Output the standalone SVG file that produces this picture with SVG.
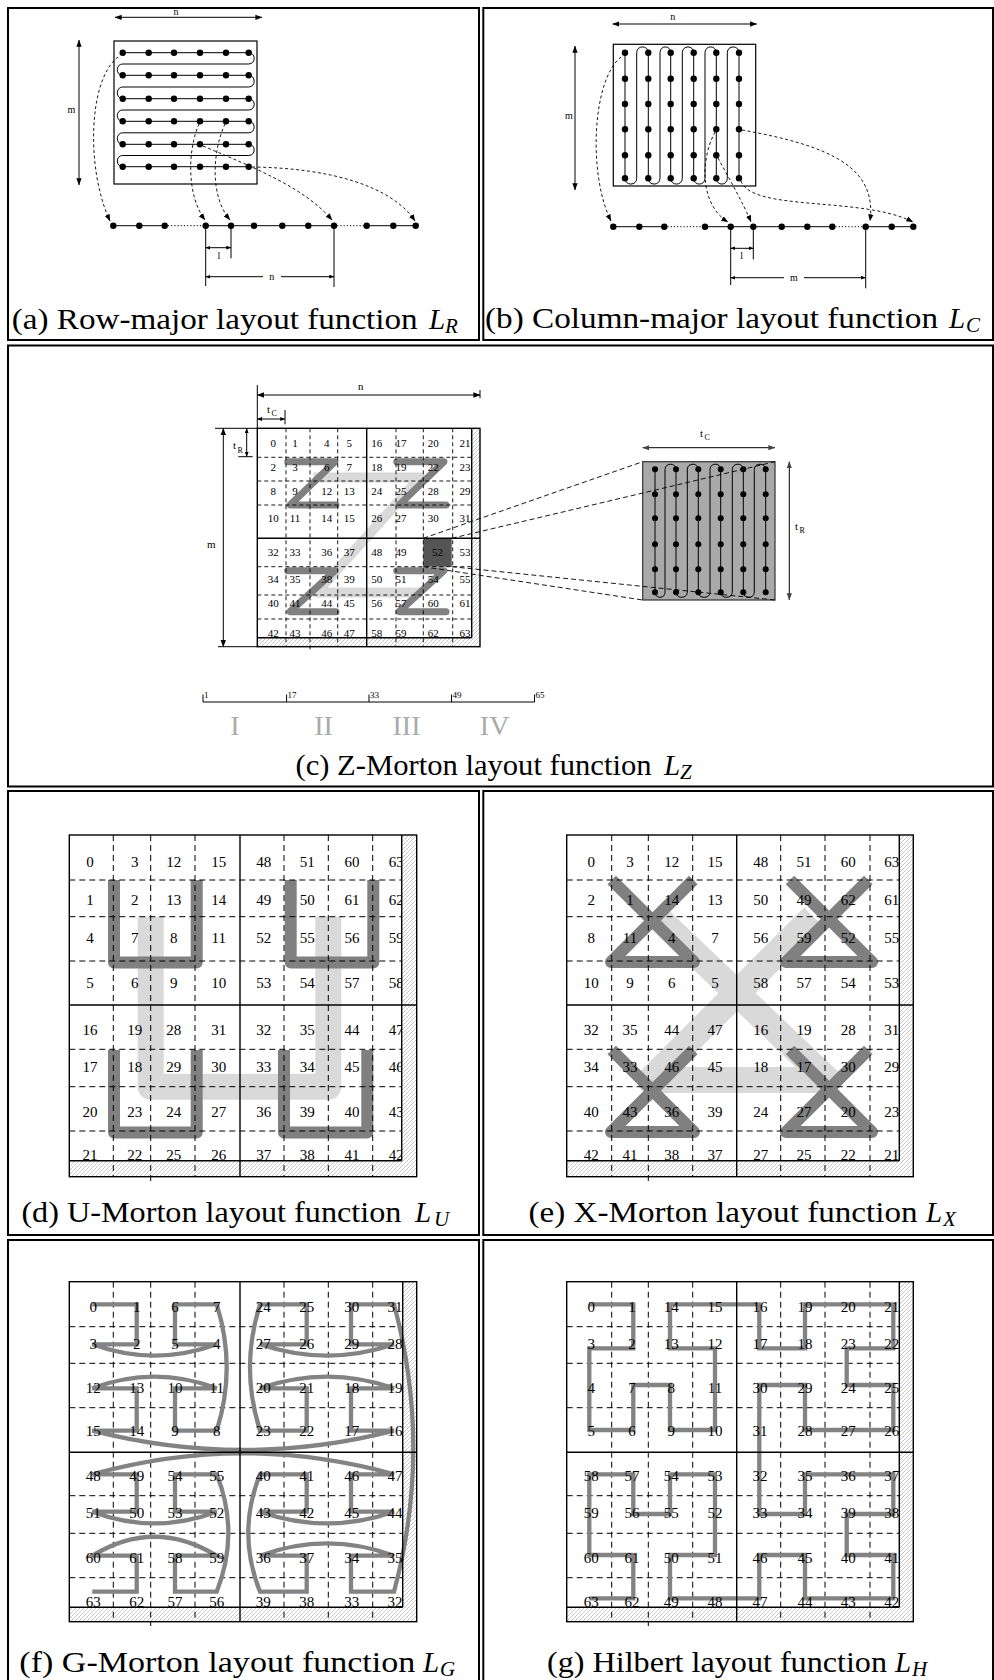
<svg xmlns="http://www.w3.org/2000/svg" width="994" height="1680" viewBox="0 0 994 1680">
<defs>
<style>
.frame{fill:none;stroke:#000;stroke-width:2}
.cap{font-family:"Liberation Serif","Times New Roman",serif;font-size:29px}
.capi{font-family:"Liberation Serif","Times New Roman",serif;font-style:italic;font-size:29px}
.sub{font-family:"Liberation Serif","Times New Roman",serif;font-style:italic;font-size:21px}
.lbl{font-family:"Liberation Serif",serif;font-size:10px;text-anchor:middle}
.lbl11{font-family:"Liberation Serif",serif;font-size:11px}
.lbl8{font-family:"Liberation Serif",serif;font-size:8px}
.n15{font-family:"Liberation Serif",serif;font-size:15px;text-anchor:middle}
.n11{font-family:"Liberation Serif",serif;font-size:11px;text-anchor:middle}
.rom{font-family:"Liberation Serif",serif;font-size:28px;fill:#aaaaaa;text-anchor:middle}
.tick{font-family:"Liberation Serif",serif;font-size:9px}
.dash{fill:none;stroke:#000;stroke-width:1;stroke-dasharray:6 4}
.dashc{fill:none;stroke:#000;stroke-width:0.9;stroke-dasharray:4 3}
.proj{fill:none;stroke:#000;stroke-width:0.9;stroke-dasharray:5 3}
.solid{fill:none;stroke:#000;stroke-width:1.4}
.thin{fill:none;stroke:#000;stroke-width:1}
.dotted{fill:none;stroke:#000;stroke-width:1;stroke-dasharray:1.2 2}
.hatch{fill:url(#hatch)}
.dark{fill:none;stroke:#808080;stroke-linejoin:round}
.light{fill:none;stroke:#d9d9d9;stroke-linejoin:round}
.cpath{fill:none;stroke:#838383;stroke-width:4.3}
.conn{fill:none;stroke:#000;stroke-width:0.9;stroke-dasharray:3 2.5}
.dot{fill:#000}
</style>
<pattern id="hatch" width="4" height="4" patternUnits="userSpaceOnUse">
<rect width="4" height="4" fill="#fff"/>
<path d="M-1,1 L1,-1 M0,4 L4,0 M3,5 L5,3" stroke="#a0a0a0" stroke-width="0.6"/>
</pattern>
<marker id="ah" viewBox="0 0 10 10" refX="9.5" refY="5" markerWidth="7" markerHeight="7" markerUnits="userSpaceOnUse" orient="auto-start-reverse"><path d="M0,1.2 L10,5 L0,8.8 z" fill="#000"/></marker>
<marker id="ahs" viewBox="0 0 10 10" refX="9.5" refY="5" markerWidth="5" markerHeight="5" markerUnits="userSpaceOnUse" orient="auto-start-reverse"><path d="M0,1.2 L10,5 L0,8.8 z" fill="#000"/></marker>
<marker id="ahg" viewBox="0 0 10 10" refX="9.5" refY="5" markerWidth="7" markerHeight="7" markerUnits="userSpaceOnUse" orient="auto-start-reverse"><path d="M0,1.2 L10,5 L0,8.8 z" fill="#444"/></marker>
</defs>
<rect width="994" height="1680" fill="#fff"/>

<!-- frames -->
<g id="frames" class="frame">
<rect x="8" y="8" width="471" height="332"/>
<rect x="483.3" y="8" width="509.7" height="332"/>
<rect x="8" y="345.5" width="985" height="441"/>
<rect x="8" y="791" width="471" height="444"/>
<rect x="483.3" y="791" width="509.7" height="444"/>
<rect x="8" y="1240" width="471" height="445"/>
<rect x="483.3" y="1240" width="509.7" height="445"/>
</g>

<!-- panel (a) -->
<g id="panel-a">
<line class="thin" x1="115" y1="17.3" x2="262" y2="17.3" marker-start="url(#ah)" marker-end="url(#ah)"/>
<text class="lbl" x="176" y="14.5">n</text>
<line class="thin" x1="79" y1="40" x2="79" y2="185" marker-start="url(#ah)" marker-end="url(#ah)"/>
<text class="lbl" x="71.5" y="113">m</text>
<rect x="114" y="41" width="143" height="143" fill="none" stroke="#000" stroke-width="1.2"/>
<path class="thin" d="M122.7,52.7 H248.7 C256,52.7 256,64 248.7,64 H122.7 C115.5,64 115.5,75.3 122.7,75.3 H248.7 C256,75.3 256,87 248.7,87 H122.7 C115.5,87 115.5,98.7 122.7,98.7 H248.7 C256,98.7 256,110 248.7,110 H122.7 C115.5,110 115.5,121.3 122.7,121.3 H248.7 C256,121.3 256,132.8 248.7,132.8 H122.7 C115.5,132.8 115.5,144.3 122.7,144.3 H248.7 C256,144.3 256,155.5 248.7,155.5 H122.7 C115.5,155.5 115.5,166.7 122.7,166.7 H248.7"/>
<g class="dot">
<circle cx="122.7" cy="52.7" r="3.2"/><circle cx="148.7" cy="52.7" r="3.2"/><circle cx="174" cy="52.7" r="3.2"/><circle cx="200" cy="52.7" r="3.2"/><circle cx="226" cy="52.7" r="3.2"/><circle cx="248.7" cy="52.7" r="3.2"/>
<circle cx="122.7" cy="75.3" r="3.2"/><circle cx="148.7" cy="75.3" r="3.2"/><circle cx="174" cy="75.3" r="3.2"/><circle cx="200" cy="75.3" r="3.2"/><circle cx="226" cy="75.3" r="3.2"/><circle cx="248.7" cy="75.3" r="3.2"/>
<circle cx="122.7" cy="98.7" r="3.2"/><circle cx="148.7" cy="98.7" r="3.2"/><circle cx="174" cy="98.7" r="3.2"/><circle cx="200" cy="98.7" r="3.2"/><circle cx="226" cy="98.7" r="3.2"/><circle cx="248.7" cy="98.7" r="3.2"/>
<circle cx="122.7" cy="121.3" r="3.2"/><circle cx="148.7" cy="121.3" r="3.2"/><circle cx="174" cy="121.3" r="3.2"/><circle cx="200" cy="121.3" r="3.2"/><circle cx="226" cy="121.3" r="3.2"/><circle cx="248.7" cy="121.3" r="3.2"/>
<circle cx="122.7" cy="144.3" r="3.2"/><circle cx="148.7" cy="144.3" r="3.2"/><circle cx="174" cy="144.3" r="3.2"/><circle cx="200" cy="144.3" r="3.2"/><circle cx="226" cy="144.3" r="3.2"/><circle cx="248.7" cy="144.3" r="3.2"/>
<circle cx="122.7" cy="166.7" r="3.2"/><circle cx="148.7" cy="166.7" r="3.2"/><circle cx="174" cy="166.7" r="3.2"/><circle cx="200" cy="166.7" r="3.2"/><circle cx="226" cy="166.7" r="3.2"/><circle cx="248.7" cy="166.7" r="3.2"/>
</g>
<line class="thin" x1="113.3" y1="225.7" x2="164.7" y2="225.7"/>
<line class="dotted" x1="164.7" y1="225.7" x2="205.7" y2="225.7"/>
<line class="thin" x1="205.7" y1="225.7" x2="334" y2="225.7"/>
<line class="dotted" x1="334" y1="225.7" x2="366.7" y2="225.7"/>
<line class="thin" x1="366.7" y1="225.7" x2="415.7" y2="225.7"/>
<g class="dot">
<circle cx="113.3" cy="225.7" r="3.2"/><circle cx="139.3" cy="225.7" r="3.2"/><circle cx="164.7" cy="225.7" r="3.2"/><circle cx="205.7" cy="225.7" r="3.2"/><circle cx="231" cy="225.7" r="3.2"/><circle cx="254" cy="225.7" r="3.2"/><circle cx="282.3" cy="225.7" r="3.2"/><circle cx="308.3" cy="225.7" r="3.2"/><circle cx="334" cy="225.7" r="3.2"/><circle cx="366.7" cy="225.7" r="3.2"/><circle cx="393.3" cy="225.7" r="3.2"/><circle cx="415.7" cy="225.7" r="3.2"/>
</g>
<line class="thin" x1="205.7" y1="225.7" x2="205.7" y2="286"/>
<line class="thin" x1="231" y1="225.7" x2="231" y2="258.3"/>
<line class="thin" x1="334" y1="225.7" x2="334" y2="287"/>
<line class="thin" x1="205.7" y1="247.7" x2="231" y2="247.7" marker-start="url(#ahs)" marker-end="url(#ahs)"/>
<text class="lbl" x="219" y="258.5">l</text>
<line class="thin" x1="205.7" y1="276.7" x2="263" y2="276.7" marker-start="url(#ahs)"/>
<line class="thin" x1="281" y1="276.7" x2="334" y2="276.7" marker-end="url(#ahs)"/>
<text class="lbl" x="271.7" y="280">n</text>
<text class="cap" x="11.7" y="329" textLength="406" lengthAdjust="spacingAndGlyphs">(a) Row-major layout function</text>
<text class="capi" x="429" y="329">L</text><text class="sub" x="445" y="333">R</text>
</g>

<!-- panel (b) -->
<g id="panel-b">
<line class="thin" x1="612.7" y1="24" x2="756.7" y2="24" marker-start="url(#ah)" marker-end="url(#ah)"/>
<text class="lbl" x="672.7" y="20">n</text>
<line class="thin" x1="575" y1="46" x2="575" y2="190" marker-start="url(#ah)" marker-end="url(#ah)"/>
<text class="lbl" x="569" y="119.3">m</text>
<rect x="613.3" y="44.3" width="142.4" height="141.7" fill="none" stroke="#000" stroke-width="1.2"/>
<path class="thin" d="M625,52.7 V178.3 C625,186 636.7,186 636.7,178.3 V52.7 C636.7,45 648.3,45 648.3,52.7 V178.3 C648.3,186 660,186 660,178.3 V52.7 C660,45 670.7,45 670.7,52.7 V178.3 C670.7,186 682.3,186 682.3,178.3 V52.7 C682.3,45 693.7,45 693.7,52.7 V178.3 C693.7,186 705,186 705,178.3 V52.7 C705,45 716.3,45 716.3,52.7 V178.3 C716.3,186 727.3,186 727.3,178.3 V52.7 C727.3,45 739,45 739,52.7 V178.3"/>
<g class="dot">
<circle cx="625" cy="52.7" r="3.2"/><circle cx="648.3" cy="52.7" r="3.2"/><circle cx="670.7" cy="52.7" r="3.2"/><circle cx="693.7" cy="52.7" r="3.2"/><circle cx="716.3" cy="52.7" r="3.2"/><circle cx="739" cy="52.7" r="3.2"/>
<circle cx="625" cy="78.7" r="3.2"/><circle cx="648.3" cy="78.7" r="3.2"/><circle cx="670.7" cy="78.7" r="3.2"/><circle cx="693.7" cy="78.7" r="3.2"/><circle cx="716.3" cy="78.7" r="3.2"/><circle cx="739" cy="78.7" r="3.2"/>
<circle cx="625" cy="104" r="3.2"/><circle cx="648.3" cy="104" r="3.2"/><circle cx="670.7" cy="104" r="3.2"/><circle cx="693.7" cy="104" r="3.2"/><circle cx="716.3" cy="104" r="3.2"/><circle cx="739" cy="104" r="3.2"/>
<circle cx="625" cy="129.3" r="3.2"/><circle cx="648.3" cy="129.3" r="3.2"/><circle cx="670.7" cy="129.3" r="3.2"/><circle cx="693.7" cy="129.3" r="3.2"/><circle cx="716.3" cy="129.3" r="3.2"/><circle cx="739" cy="129.3" r="3.2"/>
<circle cx="625" cy="155.3" r="3.2"/><circle cx="648.3" cy="155.3" r="3.2"/><circle cx="670.7" cy="155.3" r="3.2"/><circle cx="693.7" cy="155.3" r="3.2"/><circle cx="716.3" cy="155.3" r="3.2"/><circle cx="739" cy="155.3" r="3.2"/>
<circle cx="625" cy="178.3" r="3.2"/><circle cx="648.3" cy="178.3" r="3.2"/><circle cx="670.7" cy="178.3" r="3.2"/><circle cx="693.7" cy="178.3" r="3.2"/><circle cx="716.3" cy="178.3" r="3.2"/><circle cx="739" cy="178.3" r="3.2"/>
</g>
<line class="thin" x1="613.3" y1="226.7" x2="664.3" y2="226.7"/>
<line class="dotted" x1="664.3" y1="226.7" x2="705" y2="226.7"/>
<line class="thin" x1="705" y1="226.7" x2="832.3" y2="226.7"/>
<line class="dotted" x1="832.3" y1="226.7" x2="865.7" y2="226.7"/>
<line class="thin" x1="865.7" y1="226.7" x2="913.3" y2="226.7"/>
<g class="dot">
<circle cx="613.3" cy="226.7" r="3.2"/><circle cx="639.3" cy="226.7" r="3.2"/><circle cx="664.3" cy="226.7" r="3.2"/><circle cx="705" cy="226.7" r="3.2"/><circle cx="730.7" cy="226.7" r="3.2"/><circle cx="753.3" cy="226.7" r="3.2"/><circle cx="781.7" cy="226.7" r="3.2"/><circle cx="807.3" cy="226.7" r="3.2"/><circle cx="832.3" cy="226.7" r="3.2"/><circle cx="865.7" cy="226.7" r="3.2"/><circle cx="891.7" cy="226.7" r="3.2"/><circle cx="913.3" cy="226.7" r="3.2"/>
</g>
<line class="thin" x1="730.7" y1="226.7" x2="730.7" y2="285"/>
<line class="thin" x1="753.3" y1="226.7" x2="753.3" y2="259.3"/>
<line class="thin" x1="865.7" y1="226.7" x2="865.7" y2="288.3"/>
<line class="thin" x1="730.7" y1="248.3" x2="753.3" y2="248.3" marker-start="url(#ahs)" marker-end="url(#ahs)"/>
<text class="lbl" x="741.7" y="259">l</text>
<line class="thin" x1="730.7" y1="277.7" x2="784" y2="277.7" marker-start="url(#ahs)"/>
<line class="thin" x1="804" y1="277.7" x2="865.7" y2="277.7" marker-end="url(#ahs)"/>
<text class="lbl" x="794" y="281">m</text>
<text class="cap" x="485" y="328" textLength="453" lengthAdjust="spacingAndGlyphs">(b) Column-major layout function</text>
<text class="capi" x="949" y="328">L</text><text class="sub" x="966" y="332">C</text>
</g>

<!-- connectors -->
<g id="connectors" class="conn">
<path d="M118,57 C88,80 86,170 110,221" marker-end="url(#ah)"/>
<path d="M199,124 C188,148 186,195 205,220" marker-end="url(#ah)"/>
<path d="M225,124 C213,150 209,195 230,220" marker-end="url(#ah)"/>
<path d="M203,146 C255,168 305,188 332,220" marker-end="url(#ah)"/>
<path d="M252,167 C330,168 392,186 415,221" marker-end="url(#ah)"/>
<path d="M621,57 C592,80 588,175 611,221" marker-end="url(#ah)"/>
<path d="M715,132 C700,160 700,205 728,222" marker-end="url(#ah)"/>
<path d="M718,158 C730,180 744,205 751,222" marker-end="url(#ah)"/>
<path d="M741,181 C752,212 862,196 913,222" marker-end="url(#ah)"/>
<path d="M742,130 C832,146 877,168 870,221" marker-end="url(#ah)"/>
</g>

<!-- panel (c) -->
<g id="panel-c">
<line class="thin" x1="257.3" y1="385" x2="257.3" y2="428.3"/>
<line class="thin" x1="480" y1="390" x2="480" y2="398.3"/>
<line class="thin" x1="257.3" y1="395" x2="480" y2="395" marker-start="url(#ah)" marker-end="url(#ah)"/>
<text class="lbl11" x="358" y="390">n</text>
<line class="thin" x1="285" y1="410" x2="285" y2="424.3"/>
<line class="thin" x1="257.3" y1="419" x2="285" y2="419" marker-start="url(#ahs)" marker-end="url(#ahs)"/>
<text class="lbl11" x="267" y="413">t</text><text class="lbl8" x="271.5" y="416">C</text>
<line class="thin" x1="215" y1="428.3" x2="257.3" y2="428.3"/>
<line class="thin" x1="218" y1="646.7" x2="257.3" y2="646.7"/>
<line class="thin" x1="238.3" y1="456.7" x2="252.7" y2="456.7"/>
<line class="thin" x1="246.7" y1="428.3" x2="246.7" y2="456.7" marker-start="url(#ahs)" marker-end="url(#ahs)"/>
<text class="lbl11" x="233" y="449">t</text><text class="lbl8" x="237.5" y="453">R</text>
<line class="thin" x1="223.3" y1="428.3" x2="223.3" y2="646.7" marker-start="url(#ah)" marker-end="url(#ah)"/>
<text class="lbl11" x="207" y="548">m</text>
<path class="light" stroke-width="10" d="M313.3,477.5 H420 L316.7,592.5 H423.3"/>
<g class="dark" stroke-width="7" stroke-linecap="round">
<path d="M287.7,461.7 H335 L290,505 H336"/>
<path d="M396.7,461.7 H444 L399,505 H446"/>
<path d="M287.7,570.7 H335 L290,611.7 H336"/>
<path d="M396.7,570.7 H444 L399,611.7 H446"/>
</g>
<rect x="423.3" y="538.3" width="28.4" height="28.4" fill="#555"/>
<g class="dashc">
<line x1="257.3" y1="457.3" x2="471.7" y2="457.3"/><line x1="257.3" y1="481" x2="471.7" y2="481"/><line x1="257.3" y1="505" x2="471.7" y2="505"/>
<line x1="257.3" y1="566.7" x2="471.7" y2="566.7"/><line x1="257.3" y1="595" x2="471.7" y2="595"/><line x1="257.3" y1="619" x2="471.7" y2="619"/>
</g>
<g class="n11">
<text y="447"><tspan x="273.3">0</tspan><tspan x="295">1</tspan><tspan x="326.7">4</tspan><tspan x="349.3">5</tspan><tspan x="376.7">16</tspan><tspan x="401">17</tspan><tspan x="433.3">20</tspan><tspan x="465">21</tspan></text>
<text y="470.5"><tspan x="273.3">2</tspan><tspan x="295">3</tspan><tspan x="326.7">6</tspan><tspan x="349.3">7</tspan><tspan x="376.7">18</tspan><tspan x="401">19</tspan><tspan x="433.3">22</tspan><tspan x="465">23</tspan></text>
<text y="494.5"><tspan x="273.3">8</tspan><tspan x="295">9</tspan><tspan x="326.7">12</tspan><tspan x="349.3">13</tspan><tspan x="376.7">24</tspan><tspan x="401">25</tspan><tspan x="433.3">28</tspan><tspan x="465">29</tspan></text>
<text y="522"><tspan x="273.3">10</tspan><tspan x="295">11</tspan><tspan x="326.7">14</tspan><tspan x="349.3">15</tspan><tspan x="376.7">26</tspan><tspan x="401">27</tspan><tspan x="433.3">30</tspan><tspan x="465">31</tspan></text>
<text y="555.5"><tspan x="273.3">32</tspan><tspan x="295">33</tspan><tspan x="326.7">36</tspan><tspan x="349.3">37</tspan><tspan x="376.7">48</tspan><tspan x="401">49</tspan><tspan x="437.5">52</tspan><tspan x="465">53</tspan></text>
<text y="583"><tspan x="273.3">34</tspan><tspan x="295">35</tspan><tspan x="326.7">38</tspan><tspan x="349.3">39</tspan><tspan x="376.7">50</tspan><tspan x="401">51</tspan><tspan x="433.3">54</tspan><tspan x="465">55</tspan></text>
<text y="607"><tspan x="273.3">40</tspan><tspan x="295">41</tspan><tspan x="326.7">44</tspan><tspan x="349.3">45</tspan><tspan x="376.7">56</tspan><tspan x="401">57</tspan><tspan x="433.3">60</tspan><tspan x="465">61</tspan></text>
<text y="636.5"><tspan x="273.3">42</tspan><tspan x="295">43</tspan><tspan x="326.7">46</tspan><tspan x="349.3">47</tspan><tspan x="376.7">58</tspan><tspan x="401">59</tspan><tspan x="433.3">62</tspan><tspan x="465">63</tspan></text>
</g>
<rect class="hatch" x="471.7" y="428.3" width="8.3" height="218.4"/>
<rect class="hatch" x="257.3" y="637.7" width="214.4" height="9"/>
<g class="dashc">
<line x1="286" y1="428.3" x2="286" y2="646.7"/><line x1="310" y1="428.3" x2="310" y2="651"/><line x1="337.7" y1="428.3" x2="337.7" y2="646.7"/>
<line x1="396" y1="428.3" x2="396" y2="646.7"/><line x1="423.3" y1="428.3" x2="423.3" y2="646.7"/><line x1="452.7" y1="428.3" x2="452.7" y2="646.7"/>
</g>
<g class="solid">
<rect x="257.3" y="428.3" width="222.7" height="218.4"/>
<line x1="366.7" y1="428.3" x2="366.7" y2="646.7"/>
<line x1="257.3" y1="538.3" x2="480" y2="538.3"/>
<line x1="471.7" y1="428.3" x2="471.7" y2="637.7"/>
<line x1="257.3" y1="637.7" x2="471.7" y2="637.7"/>
</g>
<line class="thin" stroke="#444" x1="642.7" y1="447.7" x2="775" y2="447.7" marker-start="url(#ahg)" marker-end="url(#ahg)"/>
<text class="lbl11" x="700" y="437">t</text><text class="lbl8" x="704.5" y="440">C</text>
<line class="thin" stroke="#444" x1="789.3" y1="461.7" x2="789.3" y2="600" marker-start="url(#ahg)" marker-end="url(#ahg)"/>
<text class="lbl11" x="795" y="530">t</text><text class="lbl8" x="799.5" y="533">R</text>
<rect x="642.7" y="461.7" width="132.3" height="138.3" fill="#a9a9a9" stroke="#333" stroke-width="1.2"/>
<path class="thin" d="M655,469.3 V592.3 C655,599 665,599 665,592.3 V469.3 C665,462.5 676,462.5 676,469.3 V592.3 C676,599 687.3,599 687.3,592.3 V469.3 C687.3,462.5 698.3,462.5 698.3,469.3 V592.3 C698.3,599 710,599 710,592.3 V469.3 C710,462.5 720.7,462.5 720.7,469.3 V592.3 C720.7,599 732.3,599 732.3,592.3 V469.3 C732.3,462.5 743.3,462.5 743.3,469.3 V592.3 C743.3,599 754.3,599 754.3,592.3 V469.3 C754.3,462.5 765.7,462.5 765.7,469.3 V592.3"/>
<g class="dot">
<circle cx="655" cy="469.3" r="3"/><circle cx="676" cy="469.3" r="3"/><circle cx="698.3" cy="469.3" r="3"/><circle cx="720.7" cy="469.3" r="3"/><circle cx="743.3" cy="469.3" r="3"/><circle cx="765.7" cy="469.3" r="3"/>
<circle cx="655" cy="494.3" r="3"/><circle cx="676" cy="494.3" r="3"/><circle cx="698.3" cy="494.3" r="3"/><circle cx="720.7" cy="494.3" r="3"/><circle cx="743.3" cy="494.3" r="3"/><circle cx="765.7" cy="494.3" r="3"/>
<circle cx="655" cy="518.3" r="3"/><circle cx="676" cy="518.3" r="3"/><circle cx="698.3" cy="518.3" r="3"/><circle cx="720.7" cy="518.3" r="3"/><circle cx="743.3" cy="518.3" r="3"/><circle cx="765.7" cy="518.3" r="3"/>
<circle cx="655" cy="544.3" r="3"/><circle cx="676" cy="544.3" r="3"/><circle cx="698.3" cy="544.3" r="3"/><circle cx="720.7" cy="544.3" r="3"/><circle cx="743.3" cy="544.3" r="3"/><circle cx="765.7" cy="544.3" r="3"/>
<circle cx="655" cy="569.3" r="3"/><circle cx="676" cy="569.3" r="3"/><circle cx="698.3" cy="569.3" r="3"/><circle cx="720.7" cy="569.3" r="3"/><circle cx="743.3" cy="569.3" r="3"/><circle cx="765.7" cy="569.3" r="3"/>
<circle cx="655" cy="592.3" r="3"/><circle cx="676" cy="592.3" r="3"/><circle cx="698.3" cy="592.3" r="3"/><circle cx="720.7" cy="592.3" r="3"/><circle cx="743.3" cy="592.3" r="3"/><circle cx="765.7" cy="592.3" r="3"/>
</g>
<g class="proj">
<line x1="423.3" y1="538.3" x2="642.7" y2="461.7"/>
<line x1="451.7" y1="538.3" x2="775" y2="461.7"/>
<line x1="423.3" y1="566.7" x2="642.7" y2="600"/>
<line x1="451.7" y1="566.7" x2="775" y2="600"/>
</g>
<line class="thin" x1="203" y1="702" x2="534.5" y2="702"/>
<g class="thin">
<line x1="203" y1="694.5" x2="203" y2="702"/><line x1="286.6" y1="694.5" x2="286.6" y2="702"/><line x1="369" y1="694.5" x2="369" y2="702"/><line x1="451.5" y1="694.5" x2="451.5" y2="702"/><line x1="534.5" y1="694.5" x2="534.5" y2="702"/>
</g>
<g class="tick">
<text x="204" y="698">1</text><text x="287.6" y="698">17</text><text x="370" y="698">33</text><text x="452.5" y="698">49</text><text x="535.5" y="698">65</text>
</g>
<g class="rom">
<text x="235" y="735">I</text><text x="323.5" y="735">II</text><text x="406.5" y="735">III</text><text x="494.6" y="735">IV</text>
</g>
<text class="cap" x="295.5" y="775" textLength="356" lengthAdjust="spacingAndGlyphs">(c) Z-Morton layout function</text>
<text class="capi" x="664" y="775">L</text><text class="sub" x="680" y="779">Z</text>
</g>

<!-- panel (d) -->
<g id="panel-d">
<path class="light" stroke-width="26" d="M150.7,916.7 V1086.7 H328.3 V916.7"/>
<g class="dark" stroke-width="12">
<path d="M114,880 V962.5 H196.7 V880"/>
<path d="M290.7,880 V962.5 H373.3 V880"/>
<path d="M114,1050 V1132.5 H196.7 V1050"/>
<path d="M284,1050 V1132.5 H367.3 V1050"/>
</g>
<g class="dash">
<line x1="69.3" y1="880" x2="401.7" y2="880"/><line x1="69.3" y1="916.7" x2="401.7" y2="916.7"/><line x1="69.3" y1="961" x2="401.7" y2="961"/>
<line x1="69.3" y1="1049.3" x2="401.7" y2="1049.3"/><line x1="69.3" y1="1086.7" x2="401.7" y2="1086.7"/><line x1="69.3" y1="1131" x2="401.7" y2="1131"/>
</g>
<g class="n15">
<text y="866.7"><tspan x="90">0</tspan><tspan x="134.7">3</tspan><tspan x="173.7">12</tspan><tspan x="218.7">15</tspan><tspan x="263.7">48</tspan><tspan x="307.3">51</tspan><tspan x="352">60</tspan><tspan x="396.3">63</tspan></text>
<text y="905"><tspan x="90">1</tspan><tspan x="134.7">2</tspan><tspan x="173.7">13</tspan><tspan x="218.7">14</tspan><tspan x="263.7">49</tspan><tspan x="307.3">50</tspan><tspan x="352">61</tspan><tspan x="396.3">62</tspan></text>
<text y="943.3"><tspan x="90">4</tspan><tspan x="134.7">7</tspan><tspan x="173.7">8</tspan><tspan x="218.7">11</tspan><tspan x="263.7">52</tspan><tspan x="307.3">55</tspan><tspan x="352">56</tspan><tspan x="396.3">59</tspan></text>
<text y="988.3"><tspan x="90">5</tspan><tspan x="134.7">6</tspan><tspan x="173.7">9</tspan><tspan x="218.7">10</tspan><tspan x="263.7">53</tspan><tspan x="307.3">54</tspan><tspan x="352">57</tspan><tspan x="396.3">58</tspan></text>
<text y="1035"><tspan x="90">16</tspan><tspan x="134.7">19</tspan><tspan x="173.7">28</tspan><tspan x="218.7">31</tspan><tspan x="263.7">32</tspan><tspan x="307.3">35</tspan><tspan x="352">44</tspan><tspan x="396.3">47</tspan></text>
<text y="1071.7"><tspan x="90">17</tspan><tspan x="134.7">18</tspan><tspan x="173.7">29</tspan><tspan x="218.7">30</tspan><tspan x="263.7">33</tspan><tspan x="307.3">34</tspan><tspan x="352">45</tspan><tspan x="396.3">46</tspan></text>
<text y="1116.7"><tspan x="90">20</tspan><tspan x="134.7">23</tspan><tspan x="173.7">24</tspan><tspan x="218.7">27</tspan><tspan x="263.7">36</tspan><tspan x="307.3">39</tspan><tspan x="352">40</tspan><tspan x="396.3">43</tspan></text>
<text y="1160"><tspan x="90">21</tspan><tspan x="134.7">22</tspan><tspan x="173.7">25</tspan><tspan x="218.7">26</tspan><tspan x="263.7">37</tspan><tspan x="307.3">38</tspan><tspan x="352">41</tspan><tspan x="396.3">42</tspan></text>
</g>
<rect class="hatch" x="401.7" y="835" width="15" height="341.7"/>
<rect class="hatch" x="69.3" y="1160.7" width="332.4" height="16"/>
<g class="dash">
<line x1="113.3" y1="835" x2="113.3" y2="1176.7"/><line x1="150.7" y1="835" x2="150.7" y2="1181"/><line x1="195" y1="835" x2="195" y2="1176.7"/>
<line x1="284" y1="835" x2="284" y2="1176.7"/><line x1="328.3" y1="835" x2="328.3" y2="1176.7"/><line x1="372.7" y1="835" x2="372.7" y2="1176.7"/>
</g>
<g class="solid">
<rect x="69.3" y="835" width="347.4" height="341.7"/>
<line x1="240" y1="835" x2="240" y2="1176.7"/>
<line x1="69.3" y1="1005" x2="416.7" y2="1005"/>
<line x1="401.7" y1="835" x2="401.7" y2="1160.7"/>
<line x1="69.3" y1="1160.7" x2="401.7" y2="1160.7"/>
</g>
<text class="cap" x="21.4" y="1221.7" textLength="380" lengthAdjust="spacingAndGlyphs">(d) U-Morton layout function</text>
<text class="capi" x="415" y="1221.7">L</text><text class="sub" x="434" y="1226">U</text>
</g>

<!-- panel (e) -->
<g id="panel-e">
<path class="light" stroke-width="26" d="M656.7,916.7 L828,1080 L650,1080 L813.3,916.7"/>
<g class="dark" stroke-width="12">
<path d="M611.7,880 L694,962 L611,962 L693.3,880"/>
<path d="M790,880 L872,962 L786,962 L868.3,880"/>
<path d="M611.7,1050 L694,1132 L611,1132 L693.3,1050"/>
<path d="M790,1050 L872,1132 L786,1132 L868.3,1050"/>
</g>
<g class="dash">
<line x1="566.7" y1="880" x2="899.3" y2="880"/><line x1="566.7" y1="916.7" x2="899.3" y2="916.7"/><line x1="566.7" y1="961" x2="899.3" y2="961"/>
<line x1="566.7" y1="1049.3" x2="899.3" y2="1049.3"/><line x1="566.7" y1="1086.7" x2="899.3" y2="1086.7"/><line x1="566.7" y1="1131" x2="899.3" y2="1131"/>
</g>
<g class="n15">
<text y="866.7"><tspan x="591.3">0</tspan><tspan x="630">3</tspan><tspan x="671.7">12</tspan><tspan x="715">15</tspan><tspan x="760.7">48</tspan><tspan x="804">51</tspan><tspan x="848.3">60</tspan><tspan x="891.7">63</tspan></text>
<text y="905"><tspan x="591.3">2</tspan><tspan x="630">1</tspan><tspan x="671.7">14</tspan><tspan x="715">13</tspan><tspan x="760.7">50</tspan><tspan x="804">49</tspan><tspan x="848.3">62</tspan><tspan x="891.7">61</tspan></text>
<text y="943.3"><tspan x="591.3">8</tspan><tspan x="630">11</tspan><tspan x="671.7">4</tspan><tspan x="715">7</tspan><tspan x="760.7">56</tspan><tspan x="804">59</tspan><tspan x="848.3">52</tspan><tspan x="891.7">55</tspan></text>
<text y="988.3"><tspan x="591.3">10</tspan><tspan x="630">9</tspan><tspan x="671.7">6</tspan><tspan x="715">5</tspan><tspan x="760.7">58</tspan><tspan x="804">57</tspan><tspan x="848.3">54</tspan><tspan x="891.7">53</tspan></text>
<text y="1035"><tspan x="591.3">32</tspan><tspan x="630">35</tspan><tspan x="671.7">44</tspan><tspan x="715">47</tspan><tspan x="760.7">16</tspan><tspan x="804">19</tspan><tspan x="848.3">28</tspan><tspan x="891.7">31</tspan></text>
<text y="1071.7"><tspan x="591.3">34</tspan><tspan x="630">33</tspan><tspan x="671.7">46</tspan><tspan x="715">45</tspan><tspan x="760.7">18</tspan><tspan x="804">17</tspan><tspan x="848.3">30</tspan><tspan x="891.7">29</tspan></text>
<text y="1116.7"><tspan x="591.3">40</tspan><tspan x="630">43</tspan><tspan x="671.7">36</tspan><tspan x="715">39</tspan><tspan x="760.7">24</tspan><tspan x="804">27</tspan><tspan x="848.3">20</tspan><tspan x="891.7">23</tspan></text>
<text y="1160"><tspan x="591.3">42</tspan><tspan x="630">41</tspan><tspan x="671.7">38</tspan><tspan x="715">37</tspan><tspan x="760.7">27</tspan><tspan x="804">25</tspan><tspan x="848.3">22</tspan><tspan x="891.7">21</tspan></text>
</g>
<rect class="hatch" x="899.3" y="835" width="14" height="341.7"/>
<rect class="hatch" x="566.7" y="1160.7" width="332.6" height="16"/>
<g class="dash">
<line x1="611.7" y1="835" x2="611.7" y2="1176.7"/><line x1="648.3" y1="835" x2="648.3" y2="1181"/><line x1="692.7" y1="835" x2="692.7" y2="1176.7"/>
<line x1="780.7" y1="835" x2="780.7" y2="1176.7"/><line x1="825" y1="835" x2="825" y2="1176.7"/><line x1="870" y1="835" x2="870" y2="1176.7"/>
</g>
<g class="solid">
<rect x="566.7" y="835" width="346.6" height="341.7"/>
<line x1="736.7" y1="835" x2="736.7" y2="1176.7"/>
<line x1="566.7" y1="1005" x2="913.3" y2="1005"/>
<line x1="899.3" y1="835" x2="899.3" y2="1160.7"/>
<line x1="566.7" y1="1160.7" x2="899.3" y2="1160.7"/>
</g>
<text class="cap" x="528.5" y="1221.7" textLength="389" lengthAdjust="spacingAndGlyphs">(e) X-Morton layout function</text>
<text class="capi" x="926" y="1221.7">L</text><text class="sub" x="943" y="1226">X</text>
</g>

<!-- panel (f) -->
<g id="panel-f">
<g class="dash">
<line x1="69.3" y1="1326.7" x2="402.7" y2="1326.7"/><line x1="69.3" y1="1363.3" x2="402.7" y2="1363.3"/><line x1="69.3" y1="1407.7" x2="402.7" y2="1407.7"/>
<line x1="69.3" y1="1495.7" x2="402.7" y2="1495.7"/><line x1="69.3" y1="1533.3" x2="402.7" y2="1533.3"/><line x1="69.3" y1="1577.7" x2="402.7" y2="1577.7"/>
</g>
<rect class="hatch" x="402.7" y="1281.7" width="14" height="340"/>
<rect class="hatch" x="69.3" y="1607.3" width="333.4" height="14.4"/>
<g class="dash">
<line x1="113.3" y1="1281.7" x2="113.3" y2="1621.7"/><line x1="150.7" y1="1281.7" x2="150.7" y2="1626"/><line x1="195" y1="1281.7" x2="195" y2="1621.7"/>
<line x1="284" y1="1281.7" x2="284" y2="1621.7"/><line x1="328.3" y1="1281.7" x2="328.3" y2="1621.7"/><line x1="372.7" y1="1281.7" x2="372.7" y2="1621.7"/>
</g>
<path class="cpath" d="M92.3,1304.3 H136.7 V1344.3 H92.3 Q154.5,1367 216.7,1344.3 H175 V1304.3 H216.7 Q236.7,1367.5 216.7,1430.7 H175 V1388.3 H216.7 Q154.5,1365 92.3,1388.3 H136.7 V1430.7 H92.3 Q243,1469.3 394,1430.7 H351 V1388.3 H394 Q327,1365 260,1388.3 H306.7 V1430.7 H260 Q240,1367.5 260,1304.3 H306.7 V1344.3 H260 Q327,1367 394,1344.3 H351 V1304.3 H394 Q432.6,1448 394,1591.7 H351 V1555.7 H394 Q327,1531 260,1555.7 H306.7 V1591.7 H260 Q236.6,1533 260,1474.3 H306.7 V1511.7 H260 Q327,1535 394,1511.7 H351 V1474.3 H394 Q243,1432.3 92.3,1474.3 H136.7 V1511.7 H92.3 Q154.5,1535 216.7,1511.7 H175 V1474.3 H216.7 Q240,1533 216.7,1591.7 H175 V1555.7 H216.7 Q154.5,1517.7 92.3,1555.7 H136.7 V1591.7 H92.3"/>
<g class="n15">
<text y="1311.7"><tspan x="93.3">0</tspan><tspan x="136.7">1</tspan><tspan x="175">6</tspan><tspan x="216.7">7</tspan><tspan x="263.3">24</tspan><tspan x="306.7">25</tspan><tspan x="351.7">30</tspan><tspan x="395">31</tspan></text>
<text y="1349.3"><tspan x="93.3">3</tspan><tspan x="136.7">2</tspan><tspan x="175">5</tspan><tspan x="216.7">4</tspan><tspan x="263.3">27</tspan><tspan x="306.7">26</tspan><tspan x="351.7">29</tspan><tspan x="395">28</tspan></text>
<text y="1393.3"><tspan x="93.3">12</tspan><tspan x="136.7">13</tspan><tspan x="175">10</tspan><tspan x="216.7">11</tspan><tspan x="263.3">20</tspan><tspan x="306.7">21</tspan><tspan x="351.7">18</tspan><tspan x="395">19</tspan></text>
<text y="1436"><tspan x="93.3">15</tspan><tspan x="136.7">14</tspan><tspan x="175">9</tspan><tspan x="216.7">8</tspan><tspan x="263.3">23</tspan><tspan x="306.7">22</tspan><tspan x="351.7">17</tspan><tspan x="395">16</tspan></text>
<text y="1480.7"><tspan x="93.3">48</tspan><tspan x="136.7">49</tspan><tspan x="175">54</tspan><tspan x="216.7">55</tspan><tspan x="263.3">40</tspan><tspan x="306.7">41</tspan><tspan x="351.7">46</tspan><tspan x="395">47</tspan></text>
<text y="1518.3"><tspan x="93.3">51</tspan><tspan x="136.7">50</tspan><tspan x="175">53</tspan><tspan x="216.7">52</tspan><tspan x="263.3">43</tspan><tspan x="306.7">42</tspan><tspan x="351.7">45</tspan><tspan x="395">44</tspan></text>
<text y="1562.7"><tspan x="93.3">60</tspan><tspan x="136.7">61</tspan><tspan x="175">58</tspan><tspan x="216.7">59</tspan><tspan x="263.3">36</tspan><tspan x="306.7">37</tspan><tspan x="351.7">34</tspan><tspan x="395">35</tspan></text>
<text y="1606.7"><tspan x="93.3">63</tspan><tspan x="136.7">62</tspan><tspan x="175">57</tspan><tspan x="216.7">56</tspan><tspan x="263.3">39</tspan><tspan x="306.7">38</tspan><tspan x="351.7">33</tspan><tspan x="395">32</tspan></text>
</g>
<g class="solid">
<rect x="69.3" y="1281.7" width="347.4" height="340"/>
<line x1="240" y1="1281.7" x2="240" y2="1621.7"/>
<line x1="69.3" y1="1452.3" x2="416.7" y2="1452.3"/>
<line x1="402.7" y1="1281.7" x2="402.7" y2="1607.3"/>
<line x1="69.3" y1="1607.3" x2="402.7" y2="1607.3"/>
</g>
<text class="cap" x="19.3" y="1672" textLength="396" lengthAdjust="spacingAndGlyphs">(f) G-Morton layout function</text>
<text class="capi" x="423" y="1672">L</text><text class="sub" x="440" y="1676">G</text>
</g>

<!-- panel (g) -->
<g id="panel-g">
<g class="dash">
<line x1="566.7" y1="1326.7" x2="899.3" y2="1326.7"/><line x1="566.7" y1="1363.3" x2="899.3" y2="1363.3"/><line x1="566.7" y1="1407.7" x2="899.3" y2="1407.7"/>
<line x1="566.7" y1="1495.7" x2="899.3" y2="1495.7"/><line x1="566.7" y1="1533.3" x2="899.3" y2="1533.3"/><line x1="566.7" y1="1577.7" x2="899.3" y2="1577.7"/>
</g>
<rect class="hatch" x="899.3" y="1281.7" width="14" height="340"/>
<rect class="hatch" x="566.7" y="1607.3" width="332.6" height="14.4"/>
<g class="dash">
<line x1="611.7" y1="1281.7" x2="611.7" y2="1621.7"/><line x1="648.3" y1="1281.7" x2="648.3" y2="1626"/><line x1="692.7" y1="1281.7" x2="692.7" y2="1621.7"/>
<line x1="780.7" y1="1281.7" x2="780.7" y2="1621.7"/><line x1="825" y1="1281.7" x2="825" y2="1621.7"/><line x1="870" y1="1281.7" x2="870" y2="1621.7"/>
</g>
<path class="cpath" d="M589.3,1304.3 H633.3 V1348.3 H589.3 V1430 H633.3 V1385 H670 V1430 H715 V1348.3 H670 V1304.3 H759.3 V1348.3 H805 V1304.3 H893.3 V1348.3 H846.7 V1385 H893.3 V1430 H805 V1385 H759.3 V1514 H805 V1474.3 H893.3 V1514 H846.7 V1555 H893.3 V1598.3 H805 V1555 H759.3 V1598.3 H670 V1555 H715 V1474.3 H670 V1514 H633.3 V1474.3 H589.3 V1555 H633.3 V1598.3 H589.3"/>
<g class="n15">
<text y="1311.7"><tspan x="591.3">0</tspan><tspan x="632">1</tspan><tspan x="671.3">14</tspan><tspan x="715">15</tspan><tspan x="760">16</tspan><tspan x="805">19</tspan><tspan x="848.3">20</tspan><tspan x="891.7">21</tspan></text>
<text y="1349.3"><tspan x="591.3">3</tspan><tspan x="632">2</tspan><tspan x="671.3">13</tspan><tspan x="715">12</tspan><tspan x="760">17</tspan><tspan x="805">18</tspan><tspan x="848.3">23</tspan><tspan x="891.7">22</tspan></text>
<text y="1393.3"><tspan x="591.3">4</tspan><tspan x="632">7</tspan><tspan x="671.3">8</tspan><tspan x="715">11</tspan><tspan x="760">30</tspan><tspan x="805">29</tspan><tspan x="848.3">24</tspan><tspan x="891.7">25</tspan></text>
<text y="1436"><tspan x="591.3">5</tspan><tspan x="632">6</tspan><tspan x="671.3">9</tspan><tspan x="715">10</tspan><tspan x="760">31</tspan><tspan x="805">28</tspan><tspan x="848.3">27</tspan><tspan x="891.7">26</tspan></text>
<text y="1480.7"><tspan x="591.3">58</tspan><tspan x="632">57</tspan><tspan x="671.3">54</tspan><tspan x="715">53</tspan><tspan x="760">32</tspan><tspan x="805">35</tspan><tspan x="848.3">36</tspan><tspan x="891.7">37</tspan></text>
<text y="1518.3"><tspan x="591.3">59</tspan><tspan x="632">56</tspan><tspan x="671.3">55</tspan><tspan x="715">52</tspan><tspan x="760">33</tspan><tspan x="805">34</tspan><tspan x="848.3">39</tspan><tspan x="891.7">38</tspan></text>
<text y="1562.7"><tspan x="591.3">60</tspan><tspan x="632">61</tspan><tspan x="671.3">50</tspan><tspan x="715">51</tspan><tspan x="760">46</tspan><tspan x="805">45</tspan><tspan x="848.3">40</tspan><tspan x="891.7">41</tspan></text>
<text y="1606.7"><tspan x="591.3">63</tspan><tspan x="632">62</tspan><tspan x="671.3">49</tspan><tspan x="715">48</tspan><tspan x="760">47</tspan><tspan x="805">44</tspan><tspan x="848.3">43</tspan><tspan x="891.7">42</tspan></text>
</g>
<g class="solid">
<rect x="566.7" y="1281.7" width="346.6" height="340"/>
<line x1="736.7" y1="1281.7" x2="736.7" y2="1621.7"/>
<line x1="566.7" y1="1452.3" x2="913.3" y2="1452.3"/>
<line x1="899.3" y1="1281.7" x2="899.3" y2="1607.3"/>
<line x1="566.7" y1="1607.3" x2="899.3" y2="1607.3"/>
</g>
<text class="cap" x="547" y="1672" textLength="340" lengthAdjust="spacingAndGlyphs">(g) Hilbert layout function</text>
<text class="capi" x="895" y="1672">L</text><text class="sub" x="912" y="1676">H</text>
</g>
</svg>
